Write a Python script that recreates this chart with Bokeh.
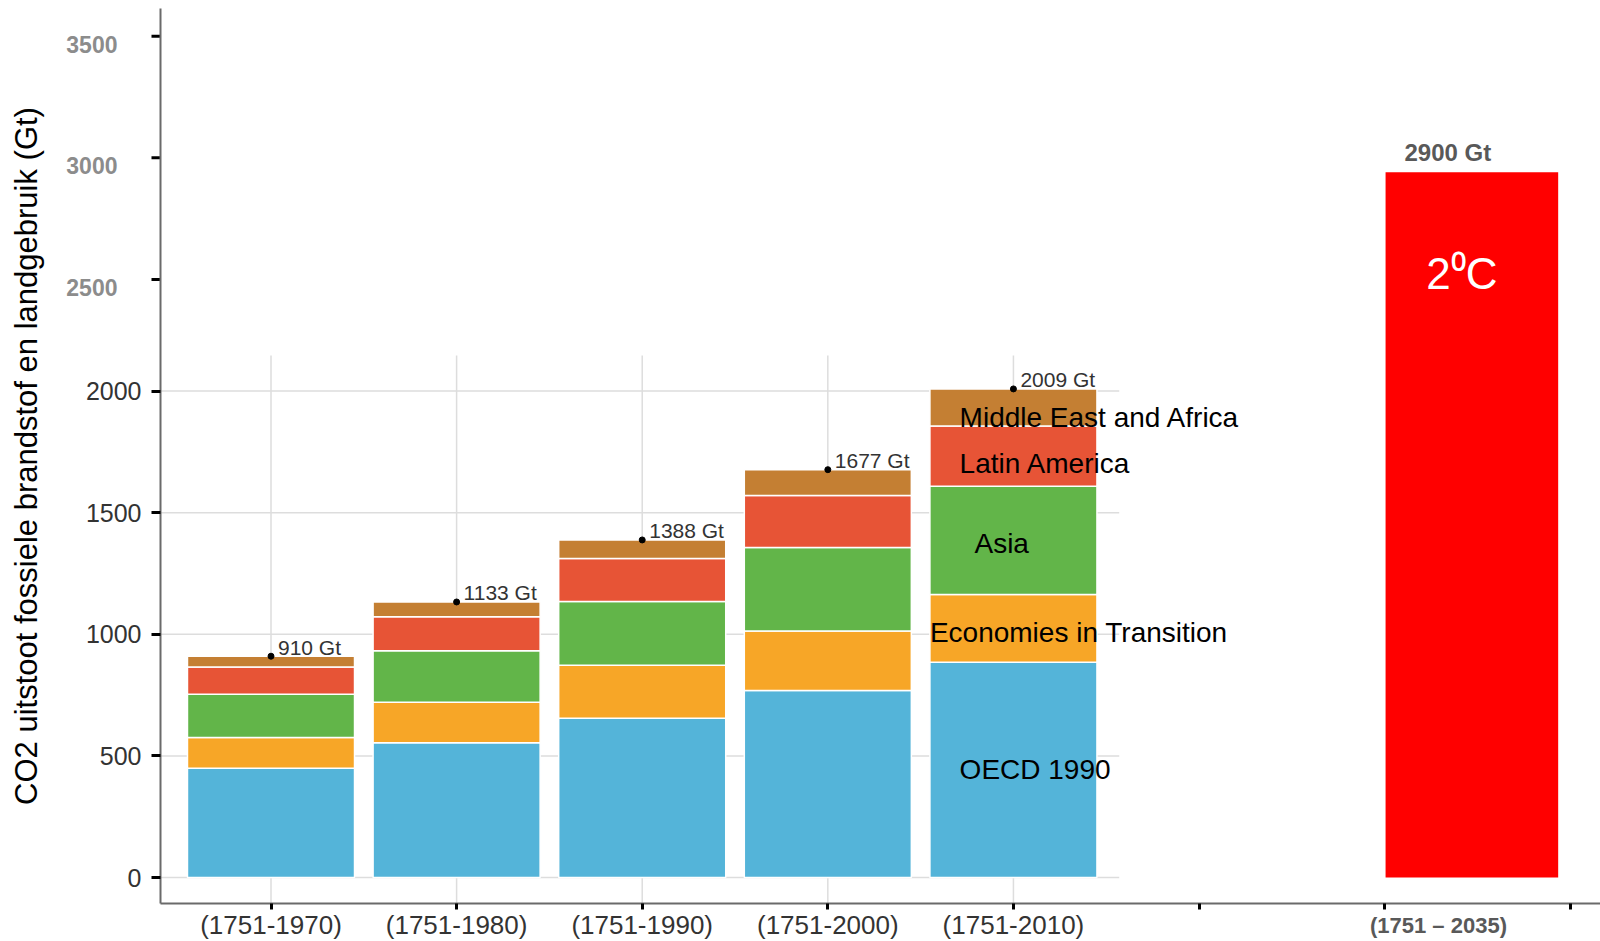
from bokeh.plotting import figure
from bokeh.models import ColumnDataSource, FixedTicker, Range1d
from bokeh.embed import file_html
from bokeh.resources import INLINE
from bokeh.core.properties import value

# ---------------- data ----------------
periods = ["(1751-1970)", "(1751-1980)", "(1751-1990)", "(1751-2000)", "(1751-2010)"]
region_names = ["OECD 1990", "Economies in Transition", "Asia", "Latin America", "Middle East and Africa"]
oecd = [449, 554, 655, 769, 885]
eit = [127, 167, 218, 245, 279]
asia = [178, 211, 262, 343, 445]
latam = [112, 140, 177, 214, 248]
mea = [44, 61, 76, 106, 152]
totals = [910, 1133, 1388, 1677, 2009]

budget_period = "(1751 – 2035)"
budget_value = 2900
budget_text = "2⁰C"

y_ticks_lower = [0, 500, 1000, 1500, 2000]
y_ticks_upper = [2500, 3000, 3500]
y_label = "CO2 uitstoot fossiele brandstof en landgebruik (Gt)"

# ---------------- layout constants ----------------
colors = ["#54B4D9", "#F7A627", "#62B549", "#E75436", "#C47F33"]
FONT = "Liberation Sans"
period_x = [1, 2, 3, 4, 5]
x_ticks = [1, 2, 3, 4, 5, 6, 7, 8]
budget_x = 7.47
budget_label_x = 7.29
XMIN, XMAX = -0.4574, 8.163      # whole canvas
YMIN, YMAX = -263, 3606          # whole canvas
AX_X = 0.4046                    # position of the y axis line
AX_Y = -107                      # position of the x axis line
AX_TOP = 3573
GRID_RIGHT = 5.57
GRID_TOP = 2146
BUDGET_LABEL_Y = -196
UPPER_SHIFT = -41                # pasted upper axis part sits a little lower
TICK_LEN = 9 / 185.6

p = figure(width=1600, height=941, output_backend="svg", toolbar_location=None,
           x_range=Range1d(XMIN, XMAX), y_range=Range1d(YMIN, YMAX),
           min_border_left=0, min_border_right=0, min_border_top=0, min_border_bottom=0)
p.outline_line_color = None
p.xgrid.visible = False
p.ygrid.visible = False
p.background_fill_color = "white"

# ggplot-like grid only in the left panel
p.segment(x0=[AX_X] * len(y_ticks_lower), x1=[GRID_RIGHT] * len(y_ticks_lower),
          y0=y_ticks_lower, y1=y_ticks_lower, line_color="#DDDDDD", line_width=1.5)
p.segment(x0=period_x, x1=period_x, y0=[AX_Y] * 5, y1=[GRID_TOP] * 5,
          line_color="#DDDDDD", line_width=1.5)

keys = ["oecd", "eit", "asia", "latam", "mea"]
src = ColumnDataSource(dict(x=period_x, oecd=oecd, eit=eit, asia=asia, latam=latam, mea=mea,
                            total=totals, lab=[f"{t} Gt" for t in totals]))
p.vbar_stack(keys, x="x", width=0.9, source=src, fill_color=colors,
             line_color="white", line_width=1.5)

# totals: dot + label
p.scatter(x="x", y="total", source=src, size=6, color="black")
p.text(x="x", y="total", text="lab", source=src, x_offset=7, y_offset=-9,
       text_font=value(FONT), text_font_size="21px", text_color="#333333",
       text_align="left", text_baseline="middle")

# region labels on last bar
last = [oecd[-1], eit[-1], asia[-1], latam[-1], mea[-1]]
mids = []
acc = 0
for v in last:
    mids.append(acc + v / 2)
    acc += v
label_dx = [-0.29, -0.45, -0.21, -0.29, -0.29]
label_dy = [0, 4, 3, 7, 10]
for name, m, dx, dy in zip(region_names, mids, label_dx, label_dy):
    p.text(x=[period_x[-1] + dx], y=[m], text=[name], y_offset=dy,
           text_font=value(FONT), text_font_size="28px", text_color="black",
           text_align="left", text_baseline="middle")

# 2 degree budget bar
bsrc = ColumnDataSource(dict(x=[budget_x], top=[budget_value], lab=[f"{budget_value} Gt"], t=[budget_text]))
p.vbar(x="x", top="top", bottom=0, width=0.93, source=bsrc, fill_color="#FF0000", line_color=None)
p.text(x="x", y="top", text="lab", source=bsrc, x_offset=-24, y_offset=-6,
       text_font=value(FONT), text_font_size="24px", text_font_style="bold",
       text_color="#595959", text_align="center", text_baseline="bottom")
p.text(x="x", y="top", text="t", source=bsrc, x_offset=-10, y_offset=101,
       text_font=value(FONT), text_font_size="44px", text_color="white",
       text_align="center", text_baseline="middle")

# budget period label under the axis
p.text(x=[budget_label_x], y=[BUDGET_LABEL_Y], text=[budget_period],
       text_font=value(FONT), text_font_size="22px", text_font_style="bold",
       text_color="#595959", text_align="center", text_baseline="middle")

# upper y axis part (pasted, bold grey labels)
upper_y = [t + UPPER_SHIFT for t in y_ticks_upper]
p.segment(x0=[AX_X - TICK_LEN] * len(upper_y), x1=[AX_X] * len(upper_y), y0=upper_y, y1=upper_y,
          line_color="black", line_width=3, line_cap="butt")
p.text(x=[AX_X] * len(upper_y), y=upper_y, text=[str(t) for t in y_ticks_upper],
       x_offset=-43, y_offset=8, text_font=value(FONT), text_font_size="23px", text_font_style="bold",
       text_color="#8C8C8C", text_align="right", text_baseline="middle")

# axes placed at fixed positions inside the canvas
xa = p.xaxis[0]
xa.fixed_location = AX_Y
xa.bounds = (AX_X, XMAX)
xa.ticker = FixedTicker(ticks=x_ticks)
over = {i: "" for i in x_ticks}
for i, lab in zip(period_x, periods):
    over[i] = lab
xa.major_label_overrides = over
xa.axis_line_color = "#6A6A6A"
xa.axis_line_width = 2
xa.major_tick_line_color = "black"
xa.major_tick_line_width = 3
xa.major_tick_out = 6
xa.major_tick_in = 0
xa.minor_tick_line_color = None
xa.major_label_standoff = 0
xa.major_label_text_font = FONT
xa.major_label_text_font_size = "26px"
xa.major_label_text_color = "#333333"

ya = p.yaxis[0]
ya.fixed_location = AX_X
ya.bounds = (AX_Y, AX_TOP)
ya.ticker = FixedTicker(ticks=y_ticks_lower)
ya.axis_line_color = "#6A6A6A"
ya.axis_line_width = 2
ya.major_tick_line_color = "black"
ya.major_tick_line_width = 3
ya.major_tick_out = 9
ya.major_tick_in = 0
ya.minor_tick_line_color = None
ya.major_label_standoff = 10
ya.major_label_text_font = FONT
ya.major_label_text_font_size = "25px"
ya.major_label_text_color = "#333333"
ya.axis_label = y_label
ya.axis_label_text_font = FONT
ya.axis_label_text_font_size = "31px"
ya.axis_label_text_font_style = "normal"
ya.axis_label_text_color = "black"
ya.axis_label_standoff = 39

open("out.html", "w").write(file_html(p, INLINE))
